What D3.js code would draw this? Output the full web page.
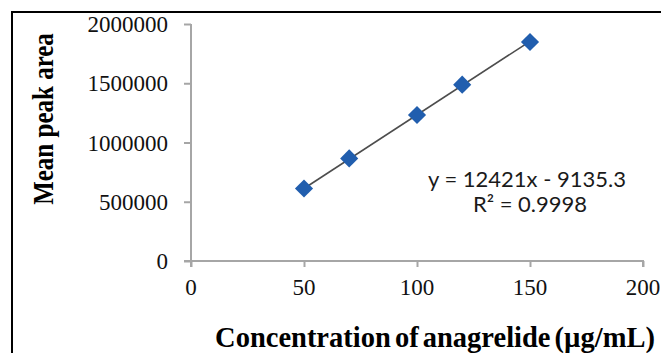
<!DOCTYPE html>
<html>
<head>
<meta charset="utf-8">
<script src="https://cdn.jsdelivr.net/npm/d3@7"></script>
<style>
    body { margin: 0; background: #fff; }
    .tick-label { font-family: "Liberation Serif", "Times New Roman", serif; font-size: 23px; fill: #111; }
    .axis-title { font-family: "Liberation Serif", "Times New Roman", serif; font-weight: bold; fill: #000; }
    .trend-text { font-family: Lato, "Open Sans", sans-serif; font-size: 22px; fill: #1a1a1a; }
</style>
</head>
<body>
<div id="chart"></div>
<script>
// calibration data
const concentration = [50, 70, 100, 120, 150];
const peakArea = [612000, 866000, 1232000, 1488000, 1848000];
const xTicks = [0, 50, 100, 150, 200];
const yTicks = [0, 500000, 1000000, 1500000, 2000000];
const trendSlope = 12421,
    trendIntercept = -9135.3;
const equationText = "y = 12421x - 9135.3";
const rSquaredText = "R\u00B2 = 0.9998";

const width = 661,
    height = 353;
const axisColor = "#a6a6a6";

const svg = d3.select("#chart").append("svg")
    .attr("width", width)
    .attr("height", height);

// outer frame (runs off right/bottom edge like the source)
svg.append("rect")
    .attr("x", 12).attr("y", 12)
    .attr("width", 720).attr("height", 420)
    .attr("fill", "none")
    .attr("stroke", "#000")
    .attr("stroke-width", 2);

const xScale = d3.scaleLinear().domain([0, 200]).range([191, 643]);
const yScale = d3.scaleLinear().domain([0, 2000000]).range([261, 24]);

// axes
const xAxis = d3.axisBottom(xScale).tickValues(xTicks).tickSize(6).tickFormat("");
const yAxis = d3.axisLeft(yScale).tickValues(yTicks).tickSize(7).tickFormat("");

const gx = svg.append("g").attr("transform", "translate(0," + yScale(0) + ")").call(xAxis);
const gy = svg.append("g").attr("transform", "translate(" + xScale(0) + ",0)").call(yAxis);
[gx, gy].forEach(g => {
    g.select(".domain").attr("stroke", axisColor).attr("stroke-width", 2);
    g.selectAll(".tick line").attr("stroke", axisColor).attr("stroke-width", 2);
});
// plain lines instead of the outer-tick domain paths
gy.select(".domain").attr("d", "M0," + yScale(2000000) + "V" + (yScale(0) + 6));
gx.select(".domain").attr("d", "M" + (xScale(0) - 7) + ",0H" + xScale(200) + "V6");

// tick labels
svg.selectAll(".xlab").data(xTicks).enter().append("text")
    .attr("class", "tick-label")
    .attr("x", d => xScale(d))
    .attr("y", 295)
    .attr("text-anchor", "middle")
    .text(d => d);

svg.selectAll(".ylab").data(yTicks).enter().append("text")
    .attr("class", "tick-label")
    .attr("x", 168)
    .attr("y", d => yScale(d) + 8)
    .attr("text-anchor", "end")
    .text(d => d);

// axis titles
svg.append("text")
    .attr("class", "axis-title")
    .attr("transform", "translate(53,119) rotate(-90) scale(1,1.2)")
    .attr("text-anchor", "middle")
    .style("font-size", "25px")
    .text("Mean peak area");

svg.append("text")
    .attr("class", "axis-title")
    .attr("x", 435)
    .attr("y", 347)
    .attr("text-anchor", "middle")
    .style("font-size", "28.5px")
    .style("word-spacing", "-3px")
    .text("Concentration of anagrelide (\u00B5g/mL)");

// linear trendline
const x0 = d3.min(concentration),
    x1 = d3.max(concentration);
svg.append("line")
    .attr("x1", xScale(x0)).attr("y1", yScale(trendSlope * x0 + trendIntercept))
    .attr("x2", xScale(x1)).attr("y2", yScale(trendSlope * x1 + trendIntercept))
    .attr("stroke", "#4d4d4d")
    .attr("stroke-width", 1.6);

// diamond markers
const diamond = d3.symbol().type(d3.symbolDiamond2).size(210);
svg.selectAll(".pt").data(concentration).enter().append("path")
    .attr("d", diamond)
    .attr("transform", (d, i) => "translate(" + xScale(d) + "," + yScale(peakArea[i]) + ")")
    .attr("fill", "#215eae");

// trend equation
svg.append("text")
    .attr("class", "trend-text")
    .attr("x", 527).attr("y", 187)
    .attr("text-anchor", "middle")
    .text(equationText);
svg.append("text")
    .attr("class", "trend-text")
    .attr("x", 530).attr("y", 212)
    .attr("text-anchor", "middle")
    .text(rSquaredText);
</script>
</body>
</html>
